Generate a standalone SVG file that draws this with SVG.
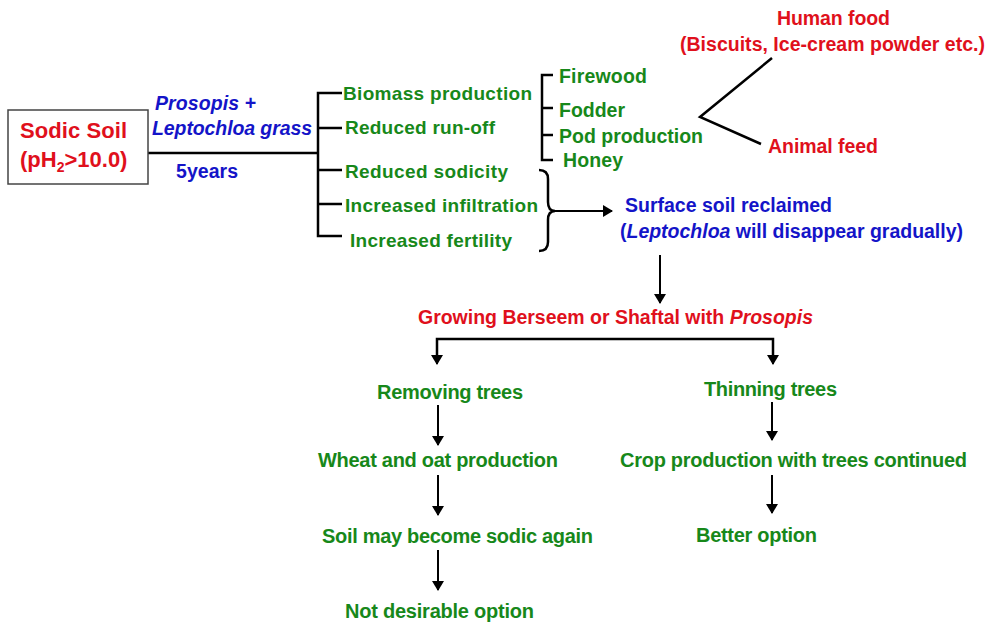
<svg xmlns="http://www.w3.org/2000/svg" width="990" height="625" viewBox="0 0 990 625">
<defs>
<marker id="ah" viewBox="0 0 10 12" refX="9" refY="6" markerWidth="10" markerHeight="12" markerUnits="userSpaceOnUse" orient="auto">
<path d="M0,0 L10,6 L0,12 Z" fill="#000"/>
</marker>
</defs>
<style>
text{font-family:"Liberation Sans",Arial,sans-serif;font-weight:bold}
.g{fill:#17881a;font-size:19px}
.gb{fill:#17881a;font-size:20px}
.r{fill:#e0101c;font-size:19.5px}
.b{fill:#1414c8;font-size:19.5px}
.i{font-style:italic}
.ln{stroke:#000;stroke-width:2.5;fill:none}
.ar{stroke:#000;stroke-width:2;fill:none;marker-end:url(#ah)}
</style>
<rect width="990" height="625" fill="#fff"/>

<g id="connectors">
<line class="ln" x1="148" y1="153" x2="318" y2="153"/>
<path class="ln" d="M342,93 L318,93 L318,236 L342,236 M318,128 L342,128 M318,170 L342,170 M318,204 L342,204"/>
<path class="ln" d="M553,75 L542,75 L542,160 L553,160 M542,108 L553,108 M542,135 L553,135"/>
<path class="ln" d="M772,58 L700,117 L761,144"/>
<path class="ln" d="M539,170 Q548,170 548,179 L548,202 Q548,211 555,211 Q548,211 548,220 L548,242 Q548,251 539,251"/>
<line class="ar" x1="555" y1="211" x2="612" y2="211"/>
<line class="ar" x1="660" y1="255" x2="660" y2="303"/>
<path class="ln" d="M437,355 L437,339 L773,339 L773,355"/>
<line class="ar" x1="437" y1="352" x2="437" y2="364"/>
<line class="ar" x1="773" y1="352" x2="773" y2="364"/>
<line class="ar" x1="438" y1="405" x2="438" y2="445"/>
<line class="ar" x1="438" y1="475" x2="438" y2="515"/>
<line class="ar" x1="438" y1="550" x2="438" y2="590"/>
<line class="ar" x1="772" y1="402" x2="772" y2="440"/>
<line class="ar" x1="772" y1="475" x2="772" y2="513"/>
</g>

<g id="sodic-soil">
<rect x="8" y="110" width="140" height="74" fill="#fff" stroke="#444" stroke-width="1.5"/>
<text class="r" x="20" y="138" textLength="107" style="font-size:22px">Sodic Soil</text>
<text class="r" x="20" y="167" style="font-size:22px">(pH<tspan dy="5" style="font-size:14px">2</tspan><tspan dy="-5">&gt;10.0)</tspan></text>
</g>

<g id="treatment">
<text class="b i" x="155" y="110" textLength="101">Prosopis +</text>
<text class="b i" x="152" y="135" textLength="160">Leptochloa grass</text>
<text class="b" x="176" y="178" textLength="62">5years</text>
</g>

<g id="effects">
<text class="g" x="343" y="100" textLength="189">Biomass production</text>
<text class="g" x="345" y="134" textLength="150">Reduced run-off</text>
<text class="g" x="345" y="178" textLength="163">Reduced sodicity</text>
<text class="g" x="345" y="212" textLength="193">Increased infiltration</text>
<text class="g" x="350" y="247" textLength="162">Increased fertility</text>
</g>

<g id="products">
<text class="g" x="559" y="83" textLength="88" style="font-size:19.5px">Firewood</text>
<text class="g" x="559" y="117" textLength="66" style="font-size:19.5px">Fodder</text>
<text class="g" x="559" y="143" textLength="144" style="font-size:19.5px">Pod production</text>
<text class="g" x="563" y="167" textLength="60" style="font-size:19.5px">Honey</text>
</g>

<g id="human-food">
<text class="r" x="777" y="25" textLength="113">Human food</text>
<text class="r" x="680" y="51" textLength="305">(Biscuits, Ice-cream powder etc.)</text>
</g>

<g id="animal-feed">
<text class="r" x="768" y="153" textLength="110">Animal feed</text>
</g>

<g id="surface-soil">
<text class="b" x="625" y="212" textLength="207">Surface soil reclaimed</text>
<text class="b" x="620" y="238" textLength="343">(<tspan class="i">Leptochloa</tspan> will disappear gradually)</text>
</g>

<g id="growing">
<text class="r" x="418" y="324" textLength="395">Growing Berseem or Shaftal with <tspan class="i">Prosopis</tspan></text>
</g>

<g id="removing">
<text class="gb" x="377" y="399" textLength="146">Removing trees</text>
</g>
<g id="wheat">
<text class="gb" x="318" y="467" textLength="240">Wheat and oat production</text>
</g>
<g id="sodic-again">
<text class="gb" x="322" y="543" textLength="271">Soil may become sodic again</text>
</g>
<g id="not-desirable">
<text class="gb" x="345" y="618" textLength="189">Not desirable option</text>
</g>

<g id="thinning">
<text class="gb" x="704" y="396" textLength="133">Thinning trees</text>
</g>
<g id="crop">
<text class="gb" x="620" y="467" textLength="347">Crop production with trees continued</text>
</g>
<g id="better">
<text class="gb" x="696" y="542" textLength="121">Better option</text>
</g>
</svg>
